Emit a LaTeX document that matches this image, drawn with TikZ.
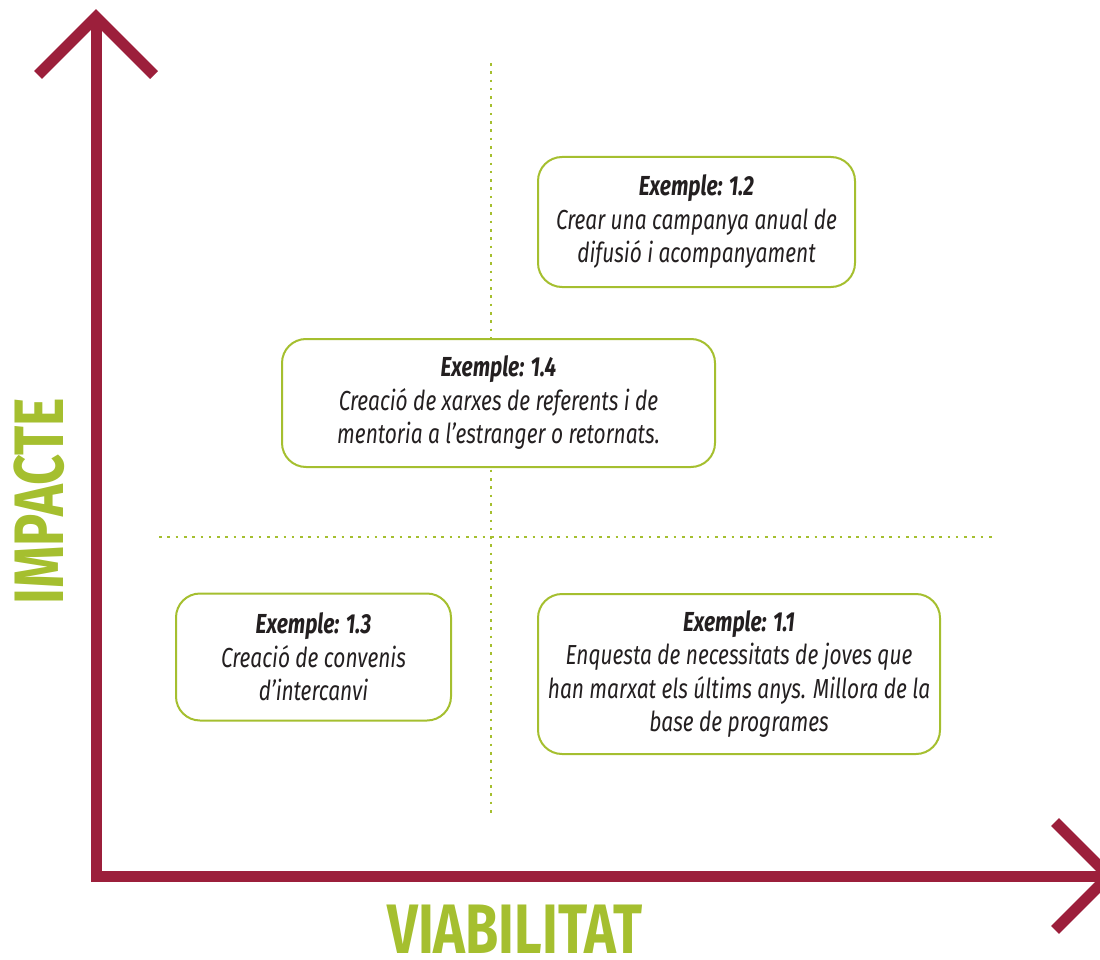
\documentclass[tikz,border=0pt]{standalone}
\usepackage{fontspec}
\setmainfont[FakeStretch=0.76]{Fira Sans}
\newfontfamily\titlefont[FakeStretch=0.77]{Fira Sans}
\usepackage{xcolor}
\usepackage{tikz}
\usetikzlibrary{positioning,calc}
\definecolor{axisred}{HTML}{9C1F3B}
\definecolor{limegreen}{HTML}{A5BF2F}
\definecolor{inktext}{HTML}{231F20}
\tikzset{
  axis/.style={draw=axisred, line width=11pt, line join=miter},
  guide/.style={draw=limegreen, line width=2.6pt, dash pattern=on 2.6pt off 5.7pt},
  exbox/.style={draw=limegreen, line width=2pt, rounded corners=24pt, fill=white,
    align=center, inner sep=0pt, text=inktext,
    font=\fontsize{27.5}{33.5}\selectfont\itshape},
  title/.style={text=limegreen, inner sep=0pt, font=\titlefont\fontsize{70}{70}\selectfont\bfseries}
}

\begin{document}
\begin{tikzpicture}[x=1pt, y=-1pt]
    \useasboundingbox (0,0) rectangle (1100,960);

    % axes
    \coordinate (origin) at (96,876);
    \coordinate (ytop) at (96,17);
    \coordinate (xend) at (1109,876);
    \draw[axis] (ytop) -- (origin) -- (xend);
    \draw[axis] (ytop) ++(-58,58) -- (ytop) -- ++(58,58);
    \draw[axis] (xend) ++(-54,-54) -- (xend) -- ++(-54,54);

    % quadrant guides
    \coordinate (vtop) at (491,63);
    \coordinate (vbot) at (491,815);
    \coordinate (hleft) at (159,537);
    \coordinate (hright) at (992,537);
    \draw[guide] (vtop) -- (vbot);
    \draw[guide] (hleft) -- (hright);

    % examples
    \node[exbox, minimum width=317pt, minimum height=130pt] (ex12) at (696.5,222)
        {\textbf{Exemple: 1.2}\\Crear una campanya anual de\\difusió i acompanyament};
    \node[exbox, minimum width=433pt, minimum height=128pt] (ex14) at (498.5,403)
        {\textbf{Exemple: 1.4}\\Creació de xarxes de referents i de\\mentoria a l’estranger o retornats.};
    \node[exbox, minimum width=275pt, minimum height=127pt] (ex13) at (313.5,657)
        {\textbf{Exemple: 1.3}\\Creació de convenis\\d’intercanvi};
    \node[exbox, minimum width=402pt, minimum height=160pt] (ex11) at (739,674)
        {\textbf{Exemple: 1.1}\\Enquesta de necessitats de joves que\\han marxat els últims anys. Millora de la\\base de programes};

    % axis titles
    \node[title, rotate=90, anchor=base] (impacte) at (63,501) {IMPACTE};
    \node[title, anchor=base] (viabilitat) at (515,953) {VIABILITAT};
\end{tikzpicture}
\end{document}
